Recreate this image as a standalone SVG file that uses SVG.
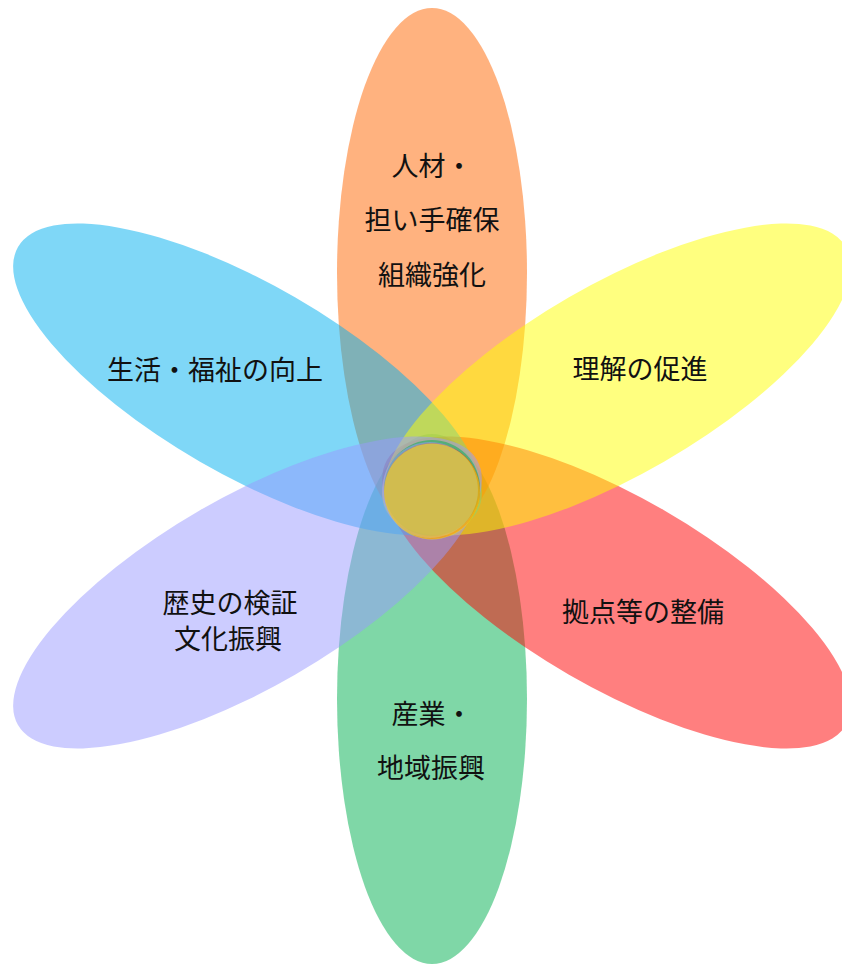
<svg xmlns="http://www.w3.org/2000/svg" width="842" height="964" viewBox="0 0 842 964">
  <style>
    .petal { opacity: 0.5; }
    .core { opacity: 0.5; }
    .lbl { font-family: "Noto Sans CJK JP", "Noto Sans CJK SC", sans-serif; font-size: 27px; fill: #111111; text-anchor: middle; dominant-baseline: central; }
  </style>
  <rect width="842" height="964" fill="#ffffff"/>
  <g id="petals">
    <g id="petal-green"><ellipse class="petal" cx="432" cy="699" rx="95" ry="265" fill="#00B050"/></g>
    <g id="petal-orange"><ellipse class="petal" cx="432" cy="273" rx="95" ry="265" fill="#FF6600"/></g>
    <g id="petal-red"><ellipse class="petal" cx="616.5" cy="592.5" rx="95" ry="265" fill="#FF0000" transform="rotate(120 616.5 592.5)"/></g>
    <g id="petal-blue"><ellipse class="petal" cx="247.5" cy="379.5" rx="95" ry="265" fill="#00B0F0" transform="rotate(-60 247.5 379.5)"/></g>
    <g id="petal-yellow"><ellipse class="petal" cx="616.5" cy="379.5" rx="95" ry="265" fill="#FFFF00" transform="rotate(60 616.5 379.5)"/></g>
    <g id="petal-purple"><ellipse class="petal" cx="247.5" cy="592.5" rx="95" ry="265" fill="#9999FF" transform="rotate(60 247.5 592.5)"/></g>
  </g>
  <g id="center">
    <circle class="core" cx="432" cy="488" r="48" fill="#00B050"/>
    <circle class="core" cx="432" cy="491" r="48" fill="#FF0000"/>
    <circle class="core" cx="430" cy="490" r="48" fill="#9999FF"/>
    <circle class="core" cx="432" cy="491.5" r="48" fill="#FFFF00"/>
  </g>
  <g id="labels">
    <g id="label-orange">
      <text class="lbl" x="432" y="164">人材・</text>
      <text class="lbl" x="432" y="218">担い手確保</text>
      <text class="lbl" x="432" y="273">組織強化</text>
    </g>
    <g id="label-blue"><text class="lbl" x="215" y="368">生活・福祉の向上</text></g>
    <g id="label-yellow"><text class="lbl" x="640" y="367">理解の促進</text></g>
    <g id="label-purple">
      <text class="lbl" x="230" y="601">歴史の検証</text>
      <text class="lbl" x="228" y="637">文化振興</text>
    </g>
    <g id="label-red"><text class="lbl" x="643" y="610">拠点等の整備</text></g>
    <g id="label-green">
      <text class="lbl" x="432" y="712">産業・</text>
      <text class="lbl" x="431" y="766">地域振興</text>
    </g>
  </g>
</svg>
